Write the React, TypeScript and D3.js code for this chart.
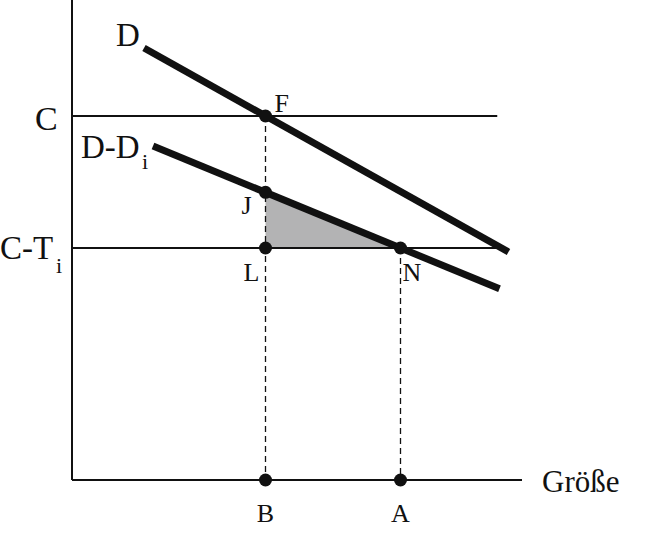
import * as d3 from 'd3'
import React, { useEffect, useRef } from 'react'

// quantity axis 0..100, price axis 0..120 (abstract units)
const demand = [{ x: 16, y: 108 }, { x: 97, y: 57 }]
const demandNet = [{ x: 18, y: 83.5 }, { x: 95, y: 47.8 }]
const priceLevels = [{ name: 'C', y: 91, end: 94.5 }, { name: 'C-T', y: 58, end: 94.5 }]
const quantities = [{ name: 'B', x: 43 }, { name: 'A', x: 73 }]
const axisLabel = 'Größe'

const W = 656
const H = 552

function lineAt (pts: { x: number, y: number }[], x: number) {
  const [a, b] = pts
  return a.y + (b.y - a.y) * (x - a.x) / (b.x - a.x)
}

export default function App () {
  const ref = useRef<SVGSVGElement>(null)

  useEffect(() => {
    const svg = d3.select(ref.current)
    svg.selectAll('*').remove()
    const x = d3.scaleLinear().domain([0, 100]).range([72, 522])
    const y = d3.scaleLinear().domain([0, 120]).range([480, 0])
    const font = 'Liberation Serif, Times New Roman, serif'

    const qB = quantities[0].x
    const qA = quantities[1].x
    const pC = priceLevels[0].y
    const pCT = priceLevels[1].y
    const F = { x: qB, y: pC }
    const J = { x: qB, y: lineAt(demandNet, qB) }
    const L = { x: qB, y: pCT }
    const N = { x: qA, y: pCT }

    // shaded triangle
    svg.append('path')
      .attr('d', d3.line<{ x: number, y: number }>().x(d => x(d.x)).y(d => y(d.y))([J, L, N]) + 'Z')
      .attr('fill', '#b3b3b4')

    // axes
    svg.append('line').attr('x1', x(0)).attr('x2', x(0)).attr('y1', 0).attr('y2', y(0))
      .attr('stroke', '#111').attr('stroke-width', 2)
    svg.append('line').attr('x1', x(0)).attr('x2', x(100)).attr('y1', y(0)).attr('y2', y(0))
      .attr('stroke', '#111').attr('stroke-width', 2)

    // price lines
    priceLevels.forEach(p => {
      svg.append('line').attr('x1', x(0)).attr('x2', x(p.end)).attr('y1', y(p.y)).attr('y2', y(p.y))
        .attr('stroke', '#111').attr('stroke-width', 2)
    })

    // dashed drops
    svg.append('line').attr('x1', x(qB)).attr('x2', x(qB)).attr('y1', y(pC)).attr('y2', y(0))
      .attr('stroke', '#111').attr('stroke-width', 1.3).attr('stroke-dasharray', '6,4')
    svg.append('line').attr('x1', x(qA)).attr('x2', x(qA)).attr('y1', y(pCT)).attr('y2', y(0))
      .attr('stroke', '#111').attr('stroke-width', 1.3).attr('stroke-dasharray', '6,4')

    // demand lines
    const ln = d3.line<{ x: number, y: number }>().x(d => x(d.x)).y(d => y(d.y))
    svg.append('path').attr('d', ln(demand)).attr('stroke', '#111').attr('stroke-width', 7).attr('fill', 'none')
    svg.append('path').attr('d', ln(demandNet)).attr('stroke', '#111').attr('stroke-width', 7).attr('fill', 'none')

    // dots
    const dots = [F, J, L, N, { x: qB, y: 0 }, { x: qA, y: 0 }]
    svg.selectAll('circle.dot').data(dots).enter().append('circle')
      .attr('class', 'dot')
      .attr('cx', d => x(d.x)).attr('cy', d => y(d.y)).attr('r', 6.5).attr('fill', '#111')

    const txt = (s: string, tx: number, ty: number, size: number, anchor = 'start') =>
      svg.append('text').attr('x', tx).attr('y', ty).attr('font-size', size)
        .attr('font-family', font).attr('fill', '#111').attr('text-anchor', anchor).text(s)

    txt('D', x(demand[0].x) - 28, y(demand[0].y) - 2, 33)
    txt('C', 35, y(pC) + 14, 34)
    txt('D-D', 81, 158, 33)
    txt('i', 142, 169, 22)
    txt('C-T', 0, 259, 33)
    txt('i', 56, 273, 22)
    txt('F', x(F.x) + 9, y(F.y) - 4, 26)
    txt('J', x(J.x) - 24, y(J.y) + 22, 26)
    txt('L', x(L.x) - 22, y(L.y) + 33, 26)
    txt('N', x(N.x) + 2, y(N.y) + 33, 26)
    quantities.forEach(q => txt(q.name, x(q.x), y(0) + 42, 26, 'middle'))
    txt(axisLabel, 542, y(0) + 12, 31)
  }, [])

  return (
    <svg ref={ref} width={W} height={H} viewBox={`0 0 ${W} ${H}`}
      style={{ position: 'absolute', left: 0, top: 0, background: '#fff' }} />
  )
}
